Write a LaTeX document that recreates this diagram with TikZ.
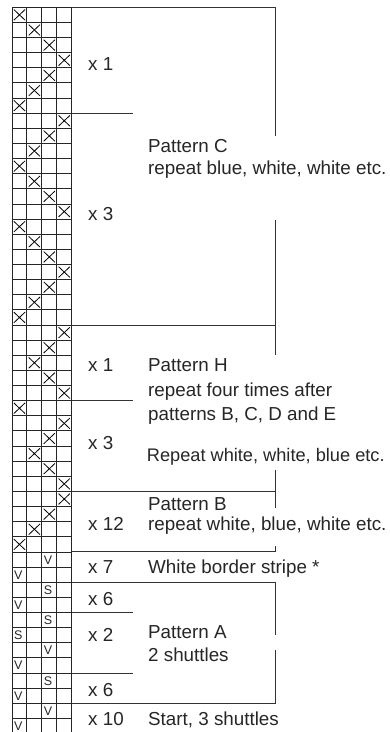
\documentclass[tikz,border=0pt]{standalone}
\usepackage{fontspec}
\setmainfont{Liberation Sans}
\begin{document}
\begin{tikzpicture}[x=1pt,y=-1pt,
  gridline/.style={draw=black!85, line width=0.95pt},
  bracket/.style={draw=black!80, line width=1pt},
  cross/.style={draw=black, line width=0.8pt},
  lbl/.style={anchor=base west, inner sep=0pt, font=\fontsize{18.8}{22}\selectfont, text=black!85},
  cellchar/.style={anchor=base west, inner sep=0pt, font=\fontsize{12.5}{13}\selectfont, text=black!85}
]
\def\gx{12}\def\cw{14.93}\def\gy{7.3}\def\rh{15.13}
\useasboundingbox (0,0) rectangle (390,732);
\fill[white] (0,0) rectangle (390,732);
% grid
\begin{scope}
\clip (0,0) rectangle (390,732);
\foreach \i in {0,...,48} \draw[gridline] (\gx,{\gy+\i*\rh}) -- ({\gx+4*\cw},{\gy+\i*\rh});
\foreach \j in {0,...,4} \draw[gridline] ({\gx+\j*\cw},\gy) -- ({\gx+\j*\cw},740);
% crosses
\foreach \r/\c in {1/1,2/2,3/3,4/4,5/3,6/2,7/1,8/4,9/3,10/2,11/1,12/2,13/3,14/4,15/1,16/2,17/3,18/4,19/3,20/2,21/1,22/4,23/3,24/2,25/3,26/4,27/1,28/4,29/3,30/2,31/3,32/4,33/4,34/3,35/2,36/1}
  \draw[cross] ({\gx+(\c-1)*\cw+1.8},{\gy+(\r-1)*\rh+2.2}) -- ++(11.3,10.7)
               ({\gx+(\c-1)*\cw+13.1},{\gy+(\r-1)*\rh+2.2}) -- ++(-11.3,10.7);
% letters
\foreach \r/\c/\t in {37/3/V,38/1/V,39/3/S,40/1/V,41/3/S,42/1/S,43/3/V,44/1/V,45/3/S,46/1/V,47/3/V,48/1/V}
  \node[cellchar] (ch\r) at ({\gx+(\c-1)*\cw+1.8},{\gy+(\r-1)*\rh+12.1}) {\t};
\end{scope}
% bracket coordinates
\coordinate (gr) at ({\gx+4*\cw},0);
\def\bx{275.7}\def\sx{132.7}
\draw[bracket] (gr |- 0,\gy) -- (\bx,\gy) -- (\bx,136);
\draw[bracket] (\bx,220) -- (\bx,355);
\draw[bracket] (gr |- 0,325.03) -- (\bx,325.03);
\draw[bracket] (gr |- 0,491.46) -- (\bx,491.46);
\draw[bracket] (\bx,470) -- (\bx,508);
\draw[bracket] (gr |- 0,551.98) -- (\bx,551.98) -- (\bx,546.3);
\draw[bracket] (gr |- 0,582.24) -- (\bx,582.24) -- (\bx,635);
\draw[bracket] (\bx,650) -- (\bx,703.28) -- (gr |- 0,703.28);
\draw[bracket] (gr |- 0,113.21) -- (\sx,113.21);
\draw[bracket] (gr |- 0,400.68) -- (\sx,400.68);
\draw[bracket] (gr |- 0,612.5) -- (\sx,612.5);
\draw[bracket] (gr |- 0,673.02) -- (\sx,673.02);
% repeat counts
\node[lbl] (m1) at (88,70) {x 1};
\node[lbl] (m2) at (88,220) {x 3};
\node[lbl] (m3) at (88,371) {x 1};
\node[lbl] (m4) at (88,449) {x 3};
\node[lbl] (m5) at (88,530) {x 12};
\node[lbl] (m6) at (88,573) {x 7};
\node[lbl] (m7) at (88,605) {x 6};
\node[lbl] (m8) at (88,641) {x 2};
\node[lbl] (m9) at (88,696) {x 6};
\node[lbl] (m10) at (88,725) {x 10};
% descriptions
\node[lbl] (pc1) at (148,152) {Pattern C};
\node[lbl] (pc2) at (148,174) {repeat blue, white, white etc.};
\node[lbl] (ph1) at (148,371) {Pattern H};
\node[lbl] (ph2) at (148,396) {repeat four times after};
\node[lbl] (ph3) at (148,420) {patterns B, C, D and E};
\node[lbl, font=\fontsize{18.2}{22}\selectfont] (rw) at (146.7,461) {Repeat white, white, blue etc.};
\node[lbl] (pb1) at (148,510) {Pattern B};
\node[lbl] (pb2) at (148,530) {repeat white, blue, white etc.};
\node[lbl] (wb) at (148,573) {White border stripe *};
\node[lbl] (pa1) at (148,638) {Pattern A};
\node[lbl] (pa2) at (148,661) {2 shuttles};
\node[lbl] (st) at (148,725) {Start, 3 shuttles};
\end{tikzpicture}
\end{document}
